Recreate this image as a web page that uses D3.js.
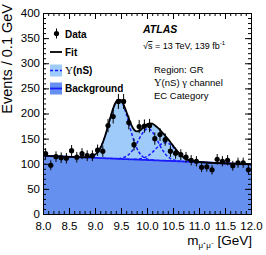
<!DOCTYPE html>
<html><head><meta charset="utf-8">
<script src="https://cdn.jsdelivr.net/npm/d3@7"></script>
<style>body{margin:0;background:#fff}svg{display:block}text{font-family:"Liberation Sans",Arial,sans-serif}</style>
</head><body>
<script>
// ---- data ----
const binCenters = [8.05,8.15,8.25,8.35,8.45,8.55,8.65,8.75,8.85,8.95,9.05,9.15,9.25,9.35,9.45,9.55,9.65,9.75,9.85,9.95,10.05,10.15,10.25,10.35,10.45,10.55,10.65,10.75,10.85,10.95,11.05,11.15,11.25,11.35,11.45,11.55,11.65,11.75,11.85,11.95];
const dataCounts = [120,97,114,112,111,126,113,120,116,116,127,125,176,194,224,224,182,138,174,175,176,150,158,148,125,121,118,113,107,105,93,94,88,109,105,107,96,102,102,88];
const dataErrors = [11,9.8,10.7,10.6,10.5,11.2,10.6,11,10.8,10.8,11.3,11.2,13.3,13.9,15,15,13.5,11.7,13.2,13.2,13.3,12.2,12.6,12.2,11.2,11,10.9,10.6,10.3,10.2,9.6,9.7,9.4,10.4,10.2,10.3,9.8,10.1,10.1,9.4];
const fitMass = [8.0,8.80,8.85,8.90,8.95,9.00,9.05,9.10,9.15,9.20,9.25,9.30,9.35,9.40,9.45,9.50,9.55,9.60,9.65,9.70,9.75,9.80,9.85,9.90,9.95,10.00,10.05,10.10,10.15,10.20,10.25,10.30,10.35,10.40,10.45,10.50,10.55,10.60,10.65,10.70,10.75,10.80,10.85,10.90,10.95,11.00,12.0];
const bkgFit = [116,112.6,112.4,112.2,112.0,111.8,111.5,111.3,111.1,110.9,110.7,110.5,110.3,110.1,109.8,109.6,109.4,109.2,109.0,108.8,108.6,108.4,108.1,107.9,107.7,107.5,107.3,107.1,106.9,106.7,106.4,106.2,106.0,105.8,105.6,105.4,105.2,105.0,104.7,104.5,104.3,104.1,103.9,103.7,103.5,103.3,99];
const sig1S = [0,0.3,0.7,1.5,3.2,6.3,11.5,19.6,31.2,46.3,64.0,82.8,99.8,112.2,117.8,115.4,105.5,90.0,71.6,53.1,36.8,23.8,14.3,8.1,4.2,2.1,0.9,0.4,0,0,0,0,0,0,0,0,0,0,0,0,0,0,0,0,0,0,0];
const sig2S = [0,0,0,0,0,0,0,0,0,0,0,0,0,0,0,1.5,2.9,5.4,9.3,15.0,22.6,31.7,41.6,50.8,57.9,61.7,61.2,56.7,49.1,39.6,29.8,20.9,13.7,8.4,4.8,2.5,1.3,0.6,0.2,0,0,0,0,0,0,0,0];
const sig3S = [0,0,0,0,0,0,0,0,0,0,0,0,0,0,0,0,0,0,0,0,0,0.7,1.4,2.6,4.4,7.1,10.8,15.5,20.7,26.1,31.0,34.4,36.0,35.3,32.5,28.2,22.9,17.5,12.6,8.5,5.4,3.2,1.8,0.9,0.5,0.2,0];
const xTicksMajor = [8.0,8.5,9.0,9.5,10.0,10.5,11.0,11.5,12.0];
const yTicksMajor = [0,50,100,150,200,250,300,350,400];
const legendLabels = ["Data","Fit","Υ(nS)","Background"];
const textLines = ["Region: GR","Υ(nS) γ channel","EC Category"];

// ---- chart ----
const W=266,H=255;
const svg=d3.select("body").append("svg").attr("width",W).attr("height",H);
const x=d3.scaleLinear().domain([8,12]).range([43,251]);
const y=d3.scaleLinear().domain([0,400]).range([214,13]);
const cBkgFill="#6690f0", cSigFill="#9fcbfa", cBlue="#1a1aff";

const pts = fitMass.map((m,i)=>({m,b:bkgFit[i],t:bkgFit[i]+sig1S[i]+sig2S[i]+sig3S[i],s1:sig1S[i],s2:sig2S[i],s3:sig3S[i]}));
const curve=d3.curveMonotoneX;
svg.append("path").datum(pts).attr("fill",cBkgFill)
  .attr("d",d3.area().x(d=>x(d.m)).y0(y(0)).y1(d=>y(d.b)).curve(curve));
svg.append("path").datum(pts).attr("fill",cSigFill)
  .attr("d",d3.area().x(d=>x(d.m)).y0(d=>y(d.b)).y1(d=>y(d.t)).curve(curve));
svg.append("path").datum(pts).attr("fill","none").attr("stroke",cBlue).attr("stroke-width",1.8)
  .attr("d",d3.line().x(d=>x(d.m)).y(d=>y(d.b)).curve(curve));
["s1","s2","s3"].forEach(k=>{
  const sub=pts.filter((d,i)=>d[k]>0||(pts[i-1]&&pts[i-1][k]>0)||(pts[i+1]&&pts[i+1][k]>0));
  svg.append("path").datum(sub).attr("fill","none").attr("stroke",cBlue).attr("stroke-width",1.5)
    .attr("stroke-dasharray","3,2")
    .attr("d",d3.line().x(d=>x(d.m)).y(d=>y(d.b+d[k])).curve(curve));
});
svg.append("path").datum(pts).attr("fill","none").attr("stroke","#000").attr("stroke-width",1.8)
  .attr("d",d3.line().x(d=>x(d.m)).y(d=>y(d.t)).curve(curve));

// data points
const dg=svg.append("g");
binCenters.forEach((m,i)=>{
  dg.append("line").attr("x1",x(m)).attr("x2",x(m)).attr("y1",y(dataCounts[i]-dataErrors[i])).attr("y2",y(dataCounts[i]+dataErrors[i]))
    .attr("stroke","#000").attr("stroke-width",1);
  dg.append("circle").attr("cx",x(m)).attr("cy",y(dataCounts[i])).attr("r",2.6).attr("fill","#000");
});

// axes
const minorX=d3.range(80,121).map(v=>v/10);
const minorY=d3.range(0,401,10);
function styleAx(g){g.select(".domain").attr("stroke","#000");g.selectAll(".tick line").attr("stroke","#000");}
svg.append("g").attr("transform","translate(0,214)").call(d3.axisBottom(x).tickValues(minorX).tickFormat("").tickSize(-3)).call(styleAx);
svg.append("g").attr("transform","translate(0,214)").call(d3.axisBottom(x).tickValues(xTicksMajor).tickFormat(d3.format(".1f")).tickSize(-6).tickPadding(8)).call(styleAx)
  .selectAll("text").attr("font-size",11.5).attr("fill","#000");
svg.append("g").attr("transform","translate(0,13)").call(d3.axisTop(x).tickValues(minorX).tickFormat("").tickSize(-3)).call(styleAx);
svg.append("g").attr("transform","translate(0,13)").call(d3.axisTop(x).tickValues(xTicksMajor).tickFormat("").tickSize(-6)).call(styleAx);
svg.append("g").attr("transform","translate(43,0)").call(d3.axisLeft(y).tickValues(minorY).tickFormat("").tickSize(-3)).call(styleAx);
svg.append("g").attr("transform","translate(43,0)").call(d3.axisLeft(y).tickValues(yTicksMajor).tickSize(-6).tickPadding(3)).call(styleAx)
  .selectAll("text").attr("font-size",11.5).attr("fill","#000").attr("dy","0.3em");
svg.append("g").attr("transform","translate(251,0)").call(d3.axisRight(y).tickValues(minorY).tickFormat("").tickSize(-3)).call(styleAx);
svg.append("g").attr("transform","translate(251,0)").call(d3.axisRight(y).tickValues(yTicksMajor).tickFormat("").tickSize(-6)).call(styleAx);

// axis titles
svg.append("text").attr("transform","translate(12,4) rotate(-90)").attr("text-anchor","end")
  .attr("font-size",14.5).text("Events / 0.1 GeV");
const xt=svg.append("text").attr("x",252).attr("y",245).attr("text-anchor","end").attr("font-size",13.5);
xt.append("tspan").text("m");
xt.append("tspan").attr("font-size",8).attr("dy",3).text("μ⁺μ⁻");
xt.append("tspan").attr("dy",-3).text(" [GeV]");

// legend
const lg=svg.append("g");
lg.append("line").attr("x1",56.5).attr("x2",56.5).attr("y1",28.5).attr("y2",38.5).attr("stroke","#000");
lg.append("circle").attr("cx",56.5).attr("cy",33.5).attr("r",2.6);
lg.append("line").attr("x1",50).attr("x2",62).attr("y1",52).attr("y2",52).attr("stroke","#000").attr("stroke-width",1.8);
lg.append("rect").attr("x",50).attr("y",64.5).attr("width",12).attr("height",12).attr("fill",cSigFill);
lg.append("line").attr("x1",50).attr("x2",62).attr("y1",70.5).attr("y2",70.5).attr("stroke",cBlue).attr("stroke-width",1.5).attr("stroke-dasharray","3,2");
lg.append("rect").attr("x",50).attr("y",82.5).attr("width",12).attr("height",12).attr("fill",cBkgFill);
lg.append("line").attr("x1",50).attr("x2",62).attr("y1",88.5).attr("y2",88.5).attr("stroke",cBlue).attr("stroke-width",1.8);
const lb=[37.5,55.5,74,92];
legendLabels.forEach((t,i)=>{
  const tx=lg.append("text").attr("x",65).attr("y",lb[i]).attr("font-size",10).attr("font-weight","bold");
  if(t.startsWith("Υ")){tx.append("tspan").attr("font-family","'Liberation Serif',serif").attr("font-weight","normal").attr("font-size",11).text("Υ");tx.append("tspan").text(t.slice(1));}
  else tx.text(t);
});

// ATLAS labels
svg.append("text").attr("x",143).attr("y",33).attr("font-size",10.5).attr("font-weight","bold").attr("font-style","italic").text("ATLAS");
const rs=svg.append("text").attr("x",143).attr("y",49).attr("font-size",9);
rs.append("tspan").text("√");
rs.append("tspan").attr("text-decoration","overline").text("s");
rs.append("tspan").text(" = 13 TeV, 139 fb");
rs.append("tspan").attr("font-size",6).attr("dy",-4).text("-1");
const ly=[73,86,99];
textLines.forEach((t,i)=>{
  const tt=svg.append("text").attr("x",154).attr("y",ly[i]).attr("font-size",9.5);
  if(t.startsWith("Υ")){
    tt.append("tspan").attr("font-family","'Liberation Serif',serif").attr("font-size",10.5).text("Υ");
    tt.append("tspan").text("(nS) ");
    tt.append("tspan").attr("font-family","'Liberation Serif',serif").attr("font-size",10.5).text("γ");
    tt.append("tspan").text(" channel");
  } else tt.text(t);
});
</script>
</body></html>
